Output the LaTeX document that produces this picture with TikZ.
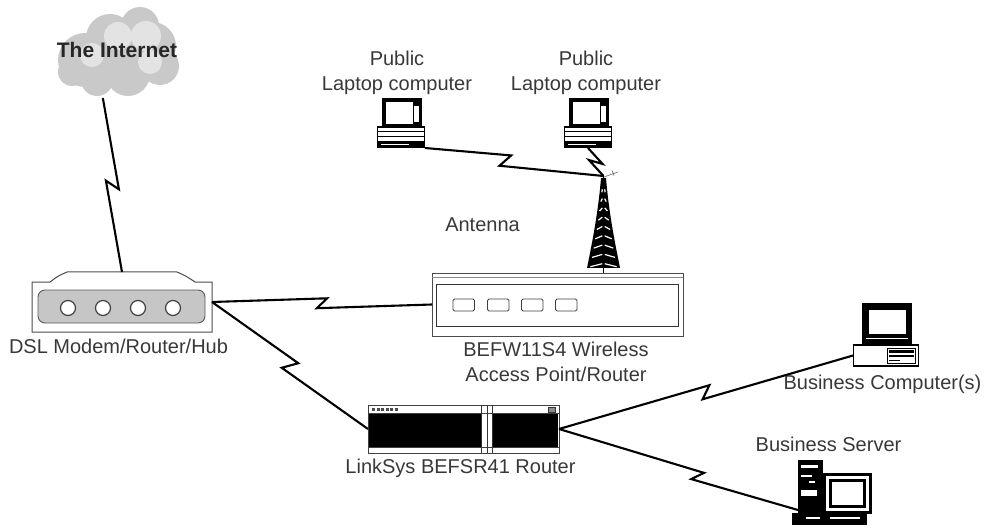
\documentclass[tikz,border=0pt]{standalone}
\usepackage{fontspec}
\setmainfont{Liberation Sans}
\usetikzlibrary{calc}
\begin{document}
\begin{tikzpicture}[x=1pt,y=1pt,
  lbl/.style={font=\fontsize{20}{25.5}\selectfont, text=black!78, inner sep=0pt, align=center},
  hold/.style={draw=none, inner sep=0pt, outer sep=0pt},
  bolt/.style n args={2}{line width=2.1pt, line join=miter, miter limit=12,
    to path={-- ($(\tikztostart)!#1!(\tikztotarget)!5pt!(\tikztotarget)!#2!90:(\tikztotarget)$)
             -- ($(\tikztostart)!#1!(\tikztotarget)!-5pt!(\tikztotarget)!#2!-90:(\tikztotarget)$)
             -- (\tikztotarget)}},
  laptop/.pic={
    \fill[black] (-19,25) rectangle (21,-4);
    \fill[white] (-15.5,21) rectangle (11.5,-1);
    \fill[white] (13,17) rectangle (17.5,1);
    \draw[black, line width=1.6, fill=white] (-23.5,-4) rectangle (23.5,-24.5);
    \draw[black, line width=1] (-23.5,-9) -- (23.5,-9) (-23.5,-13.5) -- (23.5,-13.5);
    \fill[black] (-23.5,-18.5) rectangle (23.5,-25);
    \fill[white] (-20,-20.6) rectangle (8,-21.8);
  }
]
\useasboundingbox (0,0) rectangle (990,-529);

% ---------- cloud ----------
\fill[gray!42] (85,-60) circle (27) (110,-38) circle (24) (140,-26) circle (19)
  (152,-46) circle (24) (160,-66) circle (19) (128,-74) circle (22)
  (97,-80) circle (16) (72,-72) circle (14);
\fill[gray!22] (118,-36) circle (14) (146,-36) circle (15) (92,-55) circle (12)
  (150,-62) circle (12);
\node[hold, minimum width=123, minimum height=91] (cloud) at (118.5,-52.5) {};
\node[lbl, font=\fontsize{21}{25}\selectfont\bfseries, text=black!85, anchor=base]
  (inet) at (117,-58) {The Internet};

% ---------- DSL modem ----------
\node[hold, minimum width=180, minimum height=60] (modem) at (122,-302) {};
\draw[black!70, line width=1] (32,-332) -- (32,-282) -- (50,-282)
  .. controls (58,-276) .. (67,-272) -- (177,-272) .. controls (186,-276) .. (195,-282)
  -- (212,-282) -- (212,-332) -- cycle;
\draw[black!65, fill=gray!45, line width=0.9, rounded corners=7] (38,-290) rectangle (205,-323);
\foreach \cx in {68,103,138,173}
  \draw[black!75, fill=white, line width=1.2] (\cx,-308) circle (7.5);
\node[lbl, anchor=base] (modemlbl) at (118.5,-353.5) {DSL Modem/Router/Hub};

% ---------- laptops ----------
\node[hold, minimum width=48, minimum height=50] (lap1) at (401,-123) {};
\pic at (lap1.center) {laptop};
\node[hold, minimum width=48, minimum height=50] (lap2) at (588,-123) {};
\pic at (lap2.center) {laptop};
\node[lbl] (lap1lbl) at (397,-72.8) {Public\\Laptop computer};
\node[lbl] (lap2lbl) at (586,-72.8) {Public\\Laptop computer};

% ---------- antenna tower ----------
\node[hold, minimum width=33, minimum height=96] (tower) at (603.5,-224) {};
\fill[black] (601,-178) .. controls (598,-215) and (591,-248) .. (587,-268)
  -- (620,-268) .. controls (616,-248) and (609,-215) .. (606,-178) -- cycle;
\foreach \k in {1,...,9} {
  \pgfmathsetmacro\yy{-180-9.3*\k}
  \pgfmathsetmacro\hw{2.5+13.5*((\k*9.3)/90)^1.3}
  \draw[white, line width=1.2] (602.3,\yy) -- (603.5-\hw+1.6,\yy-3);
  \draw[white, line width=1.2] (604.7,\yy) -- (603.5+\hw-1.6,\yy-3);
}
\draw[black, line width=1] (603.5,-176) -- (603.5,-273);
\draw[black!55, line width=0.7] (604,-177) -- (618,-172) (612,-170.5) -- (614,-175.5);
\node[lbl, anchor=base] (antlbl) at (482.5,-231.5) {Antenna};

% ---------- wireless access point ----------
\node[hold, minimum width=251, minimum height=63] (ap) at (557.5,-304.5) {};
\draw[black!70, line width=0.9] (ap.south west) rectangle (ap.north east);
\draw[black!45, line width=0.7] (432,-277) -- (683,-277);
\draw[black!80, line width=1] (436.5,-284) rectangle (678,-326);
\foreach \ax in {453,487.5,521.5,555.5}
  \draw[black!75, line width=0.9, rounded corners=1.5] (\ax,-299) rectangle ++(21.5,-12);
\node[lbl] (aplbl) at (556,-362) {BEFW11S4 Wireless\\Access Point/Router};

% ---------- LinkSys router ----------
\node[hold, minimum width=191, minimum height=48] (router) at (463.5,-429) {};
\fill[black] (369,-414) rectangle (481,-446.5);
\fill[black] (492.5,-414) rectangle (558,-446.5);
\draw[black!75, line width=1] (router.south west) rectangle (router.north east);
\draw[black!75, line width=0.8] (368,-413.5) -- (559,-413.5) (368,-447.5) -- (559,-447.5);
\draw[black!80, line width=0.9] (481.5,-405) -- (481.5,-453) (487,-405) -- (487,-453)
  (492.5,-405) -- (492.5,-453);
\foreach \i in {0,...,5}
  \fill[black!70] (372+4.6*\i,-408) rectangle ++(3,-3);
\draw[black!80, fill=black!45, line width=0.6] (548,-407.5) rectangle (555,-412.5);
\node[lbl, anchor=base] (routerlbl) at (460.5,-473.3) {LinkSys BEFSR41 Router};

% ---------- business computer ----------
\node[hold, minimum width=66, minimum height=21] (bcomp) at (886,-355.5) {};
\fill[black] (862,-303) rectangle (912,-344);
\fill[white] (869,-309.5) rectangle (906,-334);
\draw[white, line width=0.8] (866,-338.5) -- (908,-338.5);
\draw[black, line width=1.5, fill=white] (853.5,-345) rectangle (918.5,-366);
\draw[black, line width=1] (887,-348) rectangle (915.5,-363);
\fill[black] (889,-350) rectangle (913.5,-352.5);
\fill[black] (889,-355) rectangle (913.5,-357);
\fill[black] (889,-359.5) rectangle (900,-361);
\node[lbl, anchor=base] (bcomplbl) at (882.5,-389) {Business Computer(s)};

% ---------- business server ----------
\node[hold, minimum width=25, minimum height=60] (bserv) at (810.5,-490) {};
\fill[black] (bserv.south west) rectangle (bserv.north east);
\fill[white] (801,-465) rectangle (818,-467.5);
\fill[white] (801,-474.5) rectangle (812,-476.5);
\fill[white] (809,-480.5) rectangle (815,-482.5);
\fill[white] (801,-490) rectangle (817,-496);
\fill[black] (823,-473) rectangle (872,-514);
\fill[white] (826,-476) rectangle (869,-511);
\fill[black] (829,-479) rectangle (866,-508);
\fill[white] (832,-482) rectangle (863,-505);
\fill[black] (792,-513) rectangle (867,-525);
\fill[white] (806,-517) rectangle (820,-519);
\fill[white] (830,-516.5) rectangle (860,-518.5);
\node[lbl, anchor=base] (bservlbl) at (828.5,-451) {Business Server};

% ---------- links ----------
\draw[bolt={0.5}{6pt}] (cloud.-109) to (modem.north);
\draw[bolt={0.5}{5pt}] (modem.east) to (ap.west);
\draw[bolt={0.5}{7pt}] (modem.east) to (router.west);
\draw[bolt={0.45}{6pt}] (lap1.south east) to (tower.north);
\draw[bolt={0.5}{5pt}] (lap2.south) to (tower.north);
\draw[bolt={0.5}{6pt}] (router.east) to (bcomp.west);
\draw[bolt={0.58}{5pt}] (router.east) to (bserv.-122);
\end{tikzpicture}
\end{document}
